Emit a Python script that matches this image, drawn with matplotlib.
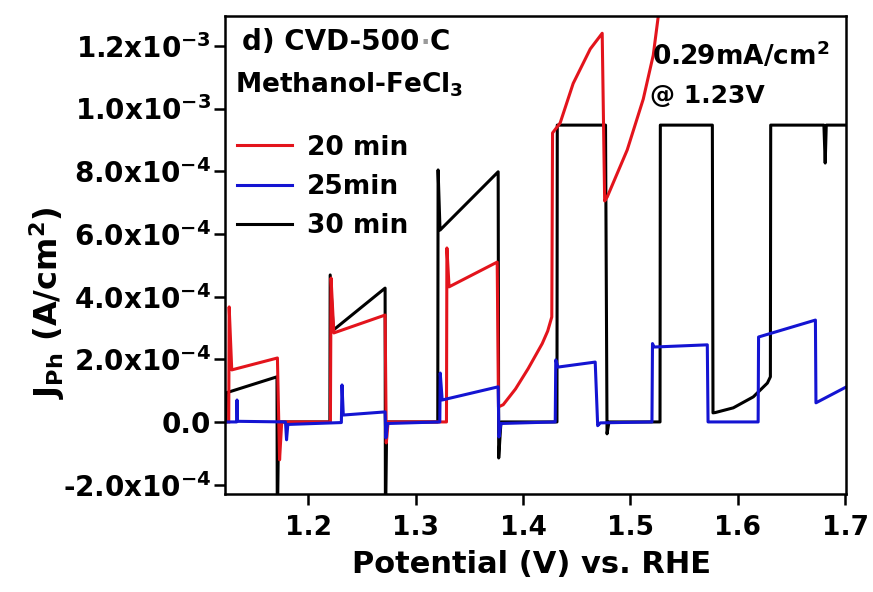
import matplotlib
matplotlib.use('Agg')
import matplotlib.pyplot as plt
import numpy as np

plt.rcParams['font.family'] = ['DejaVu Sans']
plt.rcParams['font.weight'] = 'bold'
plt.rcParams['mathtext.fontset'] = 'dejavusans'
plt.rcParams['mathtext.default'] = 'bf'

# ---------------- data (J in units of 1e-4 A/cm^2) ----------------
black_v = [1.1236, 1.1240, 1.1711, 1.1714, 1.1726, 1.2203, 1.2206, 1.2235, 1.2717, 1.2720,
           1.2732, 1.3207, 1.3210, 1.3228, 1.3769, 1.3774, 1.3795, 1.4316, 1.4319, 1.4768,
           1.4782, 1.4800, 1.5275, 1.5278, 1.5762, 1.5768, 1.5790, 1.5957, 1.6143, 1.6274,
           1.6302, 1.6305, 1.6800, 1.6812, 1.6822, 1.7010]
black_j = [0.0, 0.93, 1.44, -3.5, 0.0, 0.0, 4.69, 2.93, 4.27, -3.5,
           0.0, 0.0, 8.04, 6.12, 7.98, -1.15, 0.0, 0.0, 9.47, 9.47,
           -0.38, 0.0, 0.0, 9.47, 9.47, 0.29, 0.30, 0.45, 0.80, 1.24,
           1.44, 9.47, 9.47, 8.26, 9.47, 9.47]

red_v = [1.1262, 1.1266, 1.1290, 1.1715, 1.1735, 1.1755, 1.2208, 1.2214, 1.2240, 1.2717,
         1.2728, 1.2745, 1.3288, 1.3292, 1.3312, 1.3760, 1.3772, 1.3816, 1.3930, 1.4048,
         1.4179, 1.4230, 1.4268, 1.4275, 1.4346, 1.4467, 1.4626, 1.4737, 1.4760, 1.4784,
         1.4970, 1.5119, 1.5212, 1.5259, 1.5300]
red_j = [0.0, 3.67, 1.66, 2.04, -1.21, 0.0, 0.0, 4.59, 2.84, 3.41,
         -0.67, 0.0, 0.0, 5.55, 4.31, 5.10, 0.48, 0.55, 1.05, 1.70,
         2.50, 2.90, 3.35, 9.22, 9.54, 10.8, 11.9, 12.4, 7.05, 7.18,
         8.68, 10.3, 11.7, 12.95, 14.5]

blue_v = [1.1227, 1.1336, 1.1339, 1.1343, 1.1790, 1.1800, 1.1812, 1.2310, 1.2316, 1.2328,
          1.2717, 1.2724, 1.2740, 1.3226, 1.3230, 1.3248, 1.3769, 1.3776, 1.3795, 1.4300,
          1.4305, 1.4325, 1.4672, 1.4695, 1.4720, 1.5200, 1.5205, 1.5220, 1.5715, 1.5722,
          1.6188, 1.6192, 1.6721, 1.6726, 1.7010]
blue_j = [0.0, 0.0, 0.70, 0.02, 0.0, -0.57, -0.08, -0.02, 1.18, 0.22,
          0.32, -0.51, -0.05, 0.0, 1.56, 0.70, 1.12, -0.48, -0.05, 0.0,
          1.98, 1.75, 1.91, -0.12, -0.03, 0.0, 2.50, 2.39, 2.46, 0.0,
          0.0, 2.71, 3.25, 0.61, 1.12]

series_labels = ['20 min', '25min', '30 min']
series_colors = ['#e3141c', '#1414d2', '#000000']

xtick_vals = [1.2, 1.3, 1.4, 1.5, 1.6, 1.7]
xtick_labels = ['1.2', '1.3', '1.4', '1.5', '1.6', '1.7']
ytick_vals = [-2e-4, 0.0, 2e-4, 4e-4, 6e-4, 8e-4, 1.0e-3, 1.2e-3]
ytick_labels = [r'-2.0x10$^{-4}$', '0.0', r'2.0x10$^{-4}$', r'4.0x10$^{-4}$',
                r'6.0x10$^{-4}$', r'8.0x10$^{-4}$', r'1.0x10$^{-3}$', r'1.2x10$^{-3}$']

# ---------------- figure ----------------
fig = plt.figure(figsize=(8.73, 5.92), dpi=100)
ax = fig.add_axes([0.2577, 0.1655, 0.7113, 0.8074])

lw = 2.2
h_black, = ax.plot(black_v, np.array(black_j) * 1e-4, color=series_colors[2], lw=lw, label=series_labels[2])
h_red, = ax.plot(red_v, np.array(red_j) * 1e-4, color=series_colors[0], lw=lw, label=series_labels[0])
h_blue, = ax.plot(blue_v, np.array(blue_j) * 1e-4, color=series_colors[1], lw=lw, label=series_labels[1])

ax.set_xlim(1.1227, 1.7005)
ax.set_ylim(-2.30e-4, 1.295e-3)

ax.set_xticks(xtick_vals, xtick_labels)
ax.set_yticks(ytick_vals, ytick_labels)
ax.minorticks_off()

for s in ax.spines.values():
    s.set_linewidth(1.8)
ax.tick_params(direction='out', length=8, width=1.8, top=False, right=False)
ax.tick_params(axis='x', labelsize=19, pad=7)
ax.tick_params(axis='y', labelsize=20, pad=2)

ax.set_xlabel('Potential (V) vs. RHE', fontsize=22, fontweight='bold')
ax.xaxis.set_label_coords(0.493, -0.117)
ax.set_ylabel(r'J$_{\mathbf{Ph}}$ (A/cm$^{\mathbf{2}}$)', fontsize=23, fontweight='bold')
ax.yaxis.set_label_coords(-0.255, 0.40)

ax.text(0.027, 0.929, 'd) CVD-500', transform=ax.transAxes, fontsize=20,
        fontweight='bold', va='baseline', ha='left')
ax.text(0.322, 0.929, '\u00b7', transform=ax.transAxes, fontsize=18,
        fontweight='bold', va='baseline', ha='center', color='#9a9a9a')
ax.text(0.330, 0.929, 'C', transform=ax.transAxes, fontsize=20,
        fontweight='bold', va='baseline', ha='left')
ax.text(0.016, 0.841, r'Methanol-FeCl$_{\mathbf{3}}$', transform=ax.transAxes, fontsize=19,
        fontweight='bold', va='baseline', ha='left')
ax.text(0.6876, 0.8975, r'0.29mA/cm$^{\mathbf{2}}$', transform=ax.transAxes, fontsize=19,
        fontweight='bold', va='baseline', ha='left')
ax.text(0.684, 0.818, '@ 1.23V', transform=ax.transAxes, fontsize=18,
        fontweight='bold', va='baseline', ha='left')

leg = ax.legend(handles=[h_red, h_blue, h_black], loc='upper left',
                bbox_to_anchor=(0.019, 0.752), frameon=False, fontsize=19,
                borderpad=0, borderaxespad=0, handlelength=2.1, handletextpad=0.55,
                labelspacing=0.5)

fig.savefig('out.png', dpi=100)
